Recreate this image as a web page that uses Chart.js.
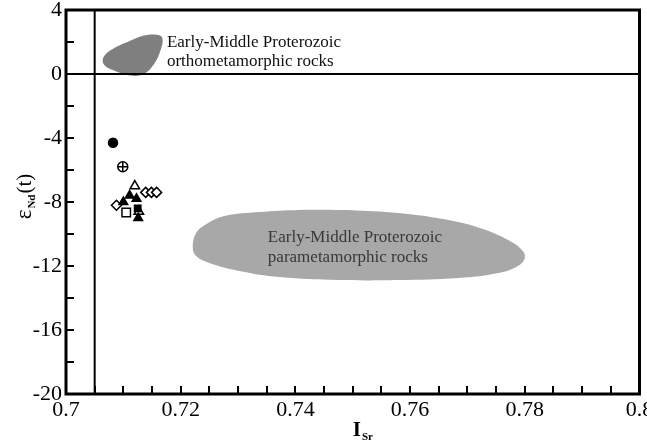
<!DOCTYPE html>
<html lang="en">
<head>
    <meta charset="UTF-8">
    <title>eNd(t) vs ISr</title>
    <script src="https://cdn.jsdelivr.net/npm/chart.js@4.4.1/dist/chart.umd.min.js"></script>
    <style>
        body { margin: 0; background: #fff; }
    </style>
</head>
<body>
<canvas id="chart" width="647" height="444"></canvas>

<script>
    // sample points (I_Sr, eNd(t))
    var circleFilled = [{x: 0.7082, y: -4.3}];
    var circleCrossed = [{x: 0.7099, y: -5.8}];
    var triangleOpen = [{x: 0.7120, y: -7.0}, {x: 0.7127, y: -8.6}];
    var triangleFilled = [{x: 0.7100, y: -8.0}, {x: 0.7111, y: -7.6}, {x: 0.7123, y: -7.8}, {x: 0.7126, y: -9.0}];
    var diamondOpen = [{x: 0.7088, y: -8.2}, {x: 0.7139, y: -7.4}, {x: 0.7149, y: -7.4}, {x: 0.7158, y: -7.4}];
    var squareOpen = [{x: 0.7105, y: -8.65}];
    var squareFilled = [{x: 0.7125, y: -8.4}];

    // outlines of the shaded fields
    var orthoField = [
        {x: 0.7110, y: 2.05}, {x: 0.7136, y: 2.4}, {x: 0.7158, y: 2.45}, {x: 0.7168, y: 2.25},
        {x: 0.7165, y: 1.5}, {x: 0.7153, y: 0.6}, {x: 0.7135, y: 0.0}, {x: 0.7113, y: -0.1},
        {x: 0.7085, y: 0.2}, {x: 0.7066, y: 0.6}, {x: 0.7066, y: 1.1}, {x: 0.7083, y: 1.6},
        {x: 0.7110, y: 2.05}
    ];
    var paraField = [
        {x: 0.7493, y: -8.5}, {x: 0.7580, y: -8.69}, {x: 0.7667, y: -9.13}, {x: 0.7727, y: -9.69},
        {x: 0.7771, y: -10.38}, {x: 0.7795, y: -11.0}, {x: 0.7800, y: -11.5}, {x: 0.7788, y: -12.0},
        {x: 0.7754, y: -12.44}, {x: 0.7684, y: -12.75}, {x: 0.7580, y: -12.88}, {x: 0.7476, y: -12.88},
        {x: 0.7372, y: -12.69}, {x: 0.7302, y: -12.31}, {x: 0.7250, y: -11.81}, {x: 0.7227, y: -11.38},
        {x: 0.7221, y: -10.81}, {x: 0.7227, y: -9.94}, {x: 0.7245, y: -9.38}, {x: 0.7276, y: -8.88},
        {x: 0.7337, y: -8.63}, {x: 0.7406, y: -8.5}, {x: 0.7493, y: -8.5}
    ];

    // reference lines
    var xRef = 0.705;
    var yRef = 0;

    var xMin = 0.7, xMax = 0.8, xStep = 0.005, xLabelStep = 0.02;
    var yMin = -20, yMax = 4, yStep = 2, yLabelStep = 4;

    var fieldLabels = [
        {x: 0.7176, y: 1.94, text: 'Early-Middle Proterozoic', color: '#111'},
        {x: 0.7176, y: 0.75, text: 'orthometamorphic rocks', color: '#111'},
        {x: 0.7352, y: -10.19, text: 'Early-Middle Proterozoic', color: '#383838'},
        {x: 0.7352, y: -11.44, text: 'parametamorphic rocks', color: '#383838'}
    ];

    var serif = '"Liberation Serif", "Times New Roman", serif';

    var pts = function (data, style, filled, r, order) {
        return {
            data: data,
            pointStyle: style,
            pointRadius: r,
            pointBackgroundColor: filled ? '#000' : '#fff',
            pointBorderColor: '#000',
            pointBorderWidth: 1.5,
            showLine: false,
            order: order
        };
    };

    var field = function (data, color) {
        return {
            data: data,
            showLine: true,
            fill: 'shape',
            tension: 0.4,
            backgroundColor: color,
            borderColor: color,
            borderWidth: 0,
            pointRadius: 0,
            order: 20
        };
    };

    var refLine = function (data) {
        return {
            data: data,
            showLine: true,
            borderColor: '#000',
            borderWidth: 2,
            pointRadius: 0,
            fill: false,
            order: 15
        };
    };

    var decorations = {
        id: 'decorations',
        afterDatasetsDraw: function (chart) {
            var ctx = chart.ctx, a = chart.chartArea;
            var sx = chart.scales.x, sy = chart.scales.y;
            ctx.save();

            // field captions
            ctx.font = '17px ' + serif;
            ctx.textBaseline = 'middle';
            ctx.textAlign = 'left';
            fieldLabels.forEach(function (l) {
                ctx.fillStyle = l.color;
                ctx.fillText(l.text, sx.getPixelForValue(l.x), sy.getPixelForValue(l.y));
            });

            // inward ticks
            ctx.strokeStyle = '#000';
            ctx.lineWidth = 2;
            ctx.beginPath();
            sx.ticks.forEach(function (t) {
                var px = Math.round(sx.getPixelForValue(t.value));
                ctx.moveTo(px, a.bottom);
                ctx.lineTo(px, a.bottom - 8);
            });
            sy.ticks.forEach(function (t) {
                var py = Math.round(sy.getPixelForValue(t.value));
                ctx.moveTo(a.left, py);
                ctx.lineTo(a.left + 8, py);
            });
            ctx.stroke();

            // frame
            ctx.lineWidth = 3;
            ctx.strokeRect(a.left, a.top, a.right - a.left, a.bottom - a.top);

            // axis titles
            ctx.fillStyle = '#000';
            ctx.textBaseline = 'alphabetic';
            ctx.font = 'bold 21px ' + serif;
            var cx = (a.left + a.right) / 2;
            ctx.fillText('I', cx, 436);
            var w = ctx.measureText('I').width;
            ctx.font = 'bold 11px ' + serif;
            ctx.fillText('Sr', cx + w + 1, 440);

            ctx.translate(31, 196);
            ctx.rotate(-Math.PI / 2);
            ctx.textAlign = 'left';
            var parts = [['\u03b5', '23px', 0], ['Nd', 'bold 11px', 4], ['(t)', '21px', 0]];
            var total = 0;
            parts.forEach(function (p) { ctx.font = p[1] + ' ' + serif; total += ctx.measureText(p[0]).width + 1; });
            var x0 = -total / 2;
            parts.forEach(function (p) {
                ctx.font = p[1] + ' ' + serif;
                ctx.fillText(p[0], x0, p[2]);
                x0 += ctx.measureText(p[0]).width + 1;
            });
            ctx.restore();
        }
    };

    var ctx = document.getElementById('chart').getContext('2d');
    var chart = new Chart(ctx, {
        type: 'scatter',
        data: {
            datasets: [
                field(orthoField, '#7f7f7f'),
                field(paraField, '#a8a8a8'),
                refLine([{x: xRef, y: yMin}, {x: xRef, y: yMax}]),
                refLine([{x: xMin, y: yRef}, {x: xMax, y: yRef}]),
                pts(diamondOpen, 'rectRot', false, 5, 9),
                pts(triangleOpen, 'triangle', false, 5.5, 8),
                pts(squareOpen, 'rect', false, 6, 7),
                pts(triangleFilled, 'triangle', true, 5, 6),
                pts(squareFilled, 'rect', true, 4.5, 5),
                pts(circleFilled, 'circle', true, 4.5, 4),
                pts(circleCrossed, 'circle', false, 5, 3),
                pts(circleCrossed, 'cross', false, 5, 2)
            ]
        },
        options: {
            responsive: false,
            devicePixelRatio: 1,
            animation: false,
            layout: {padding: {top: 10, right: 5, left: 0, bottom: 0}},
            plugins: {legend: {display: false}, tooltip: {enabled: false}},
            scales: {
                x: {
                    type: 'linear', min: xMin, max: xMax,
                    grid: {display: false, drawTicks: false},
                    border: {display: false},
                    afterFit: function (s) { s.height = 50; s.paddingLeft = 0; s.paddingRight = 0; },
                    ticks: {
                        stepSize: xStep, autoSkip: false, maxRotation: 0, padding: 3,
                        color: '#000', font: {family: serif, size: 22},
                        callback: function (v) {
                            var k = Math.round((v - xMin) / xStep);
                            return k % Math.round(xLabelStep / xStep) === 0 ? String(+v.toFixed(3)) : '';
                        }
                    }
                },
                y: {
                    type: 'linear', min: yMin, max: yMax,
                    grid: {display: false, drawTicks: false},
                    border: {display: false},
                    afterFit: function (s) { s.width = 66; s.paddingTop = 0; s.paddingBottom = 0; },
                    ticks: {
                        stepSize: yStep, padding: 4,
                        color: '#000', font: {family: serif, size: 22},
                        callback: function (v) { return v % yLabelStep === 0 ? String(v) : ''; }
                    }
                }
            }
        },
        plugins: [decorations]
    });
</script>
</body>
</html>
